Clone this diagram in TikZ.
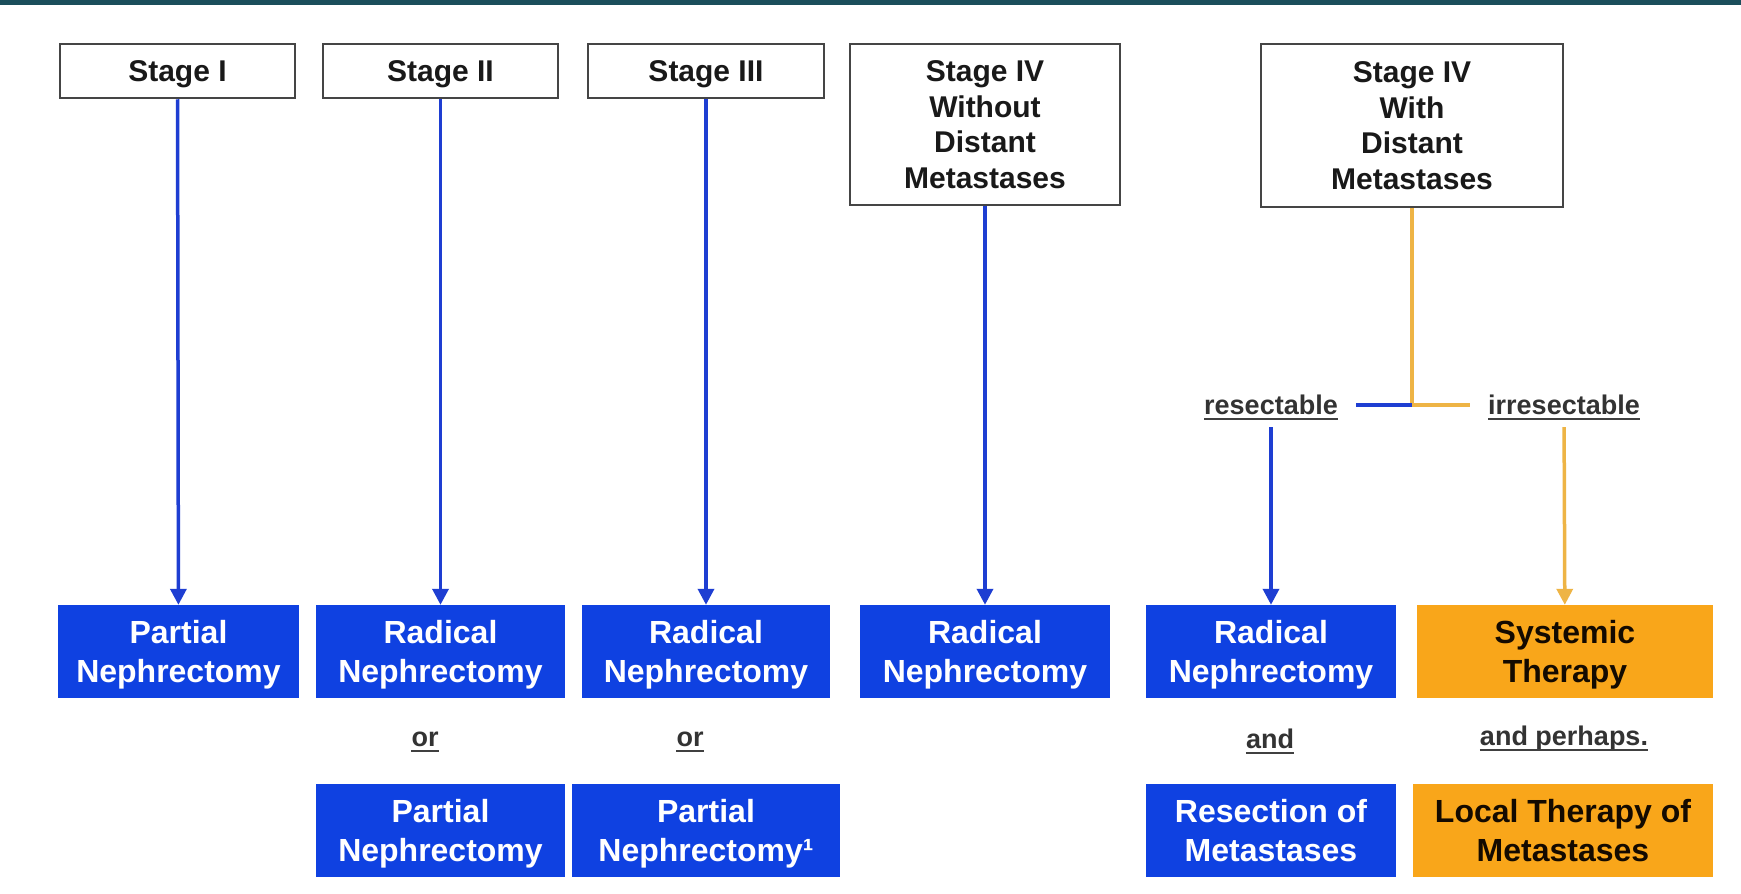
\documentclass[tikz,border=0pt]{standalone}
\usepackage{fontspec}
\setmainfont{Liberation Sans}
\usetikzlibrary{arrows.meta}
\definecolor{nblue}{HTML}{0F41E1}
\definecolor{lblue}{HTML}{1E3ED2}
\definecolor{norange}{HTML}{F9A61A}
\definecolor{lorange}{HTML}{EEB445}
\definecolor{topbar}{HTML}{1B4E5B}
\definecolor{frame}{HTML}{454545}
\tikzset{
  stagebox/.style={draw=frame, line width=2.5pt, fill=white, align=center, inner sep=0pt, text depth=0pt,
    font=\bfseries\fontsize{30}{35.5}\selectfont, text=black!90, minimum height=54pt},
  bluebox/.style={fill=nblue, text=white, align=center, inner sep=0pt, minimum height=93pt, text depth=0pt,
    font=\bfseries\fontsize{32}{39}\selectfont},
  orangebox/.style={fill=norange, text=black!92!orange, align=center, inner sep=0pt, minimum height=93pt, text depth=0pt,
    font=\bfseries\fontsize{32}{39}\selectfont},
  lab/.style={font=\bfseries\fontsize{27}{30}\selectfont, text=black!80, inner xsep=18pt, inner ysep=12pt},
  ul/.style={line width=2pt, black!75},
  barrow/.style={lblue, line width=3.5pt, -{Triangle[width=16pt,length=16pt]}},
  oarrow/.style={lorange, line width=3.5pt, -{Triangle[width=16pt,length=16pt]}},
  bline/.style={lblue, line width=3.5pt},
  oline/.style={lorange, line width=3.5pt},
}
\begin{document}
\begin{tikzpicture}[x=1pt,y=-1pt]
\useasboundingbox[fill=white] (0,0) rectangle (1741,894);
\fill[topbar] (0,0) rectangle (1741,5);

% top boxes
\node[stagebox, minimum width=235pt] (s1) at (177.5,71) {Stage I};
\node[stagebox, minimum width=235pt] (s2) at (440.5,71) {Stage II};
\node[stagebox, minimum width=236pt] (s3) at (706,71) {Stage III};
\node[stagebox, minimum width=270pt, minimum height=161pt] (s4a) at (985,124.5) {Stage IV\\Without\\Distant\\Metastases};
\node[stagebox, minimum width=302pt, minimum height=163pt] (s4b) at (1412,125.5) {Stage IV\\With\\Distant\\Metastases};

% first row of treatments
\node[bluebox, minimum width=241pt] (p1) at (178.5,651.5) {Partial\\Nephrectomy};
\node[bluebox, minimum width=249pt] (r2) at (440.5,651.5) {Radical\\Nephrectomy};
\node[bluebox, minimum width=248pt] (r3) at (706,651.5) {Radical\\Nephrectomy};
\node[bluebox, minimum width=250pt] (r4) at (985,651.5) {Radical\\Nephrectomy};
\node[bluebox, minimum width=250pt] (r5) at (1271,651.5) {Radical\\Nephrectomy};
\node[orangebox, minimum width=296pt] (sys) at (1565,651.5) {Systemic\\Therapy};

% second row
\node[bluebox, minimum width=249pt] (p2) at (440.5,830.5) {Partial\\Nephrectomy};
\node[bluebox, minimum width=268pt] (p3) at (706,830.5) {Partial\\Nephrectomy¹};
\node[bluebox, minimum width=250pt] (res) at (1271,830.5) {Resection of\\Metastases};
\node[orangebox, minimum width=300pt] (loc) at (1563,830.5) {Local Therapy of\\Metastases};

% labels
\node[lab] (or1) at (425,739) {or};
\node[lab] (or2) at (690,739) {or};
\node[lab] (and1) at (1270,739) {and};
\node[lab] (and2) at (1564,739) {and perhaps.};
\node[lab] (rsc) at (1271,405) {resectable};
\node[lab] (irr) at (1564,405) {irresectable};
\foreach \n in {or1,or2,and1,and2,rsc,irr}
  \draw[ul] ([xshift=18pt,yshift=-4.5pt]\n.base west) -- ([xshift=-18pt,yshift=-4.5pt]\n.base east);

% connectors
\draw[barrow] (s1) -- (p1);
\draw[barrow] (s2) -- (r2);
\draw[barrow] (s3) -- (r3);
\draw[barrow] (s4a) -- (r4);
\coordinate (fork) at (1412,405);
\draw[oline] (s4b) -- (fork);
\draw[bline] (fork) -- (rsc);
\draw[oline] (fork) -- (irr);
\draw[barrow] (rsc) -- (r5);
\draw[oarrow] (irr) -- (sys);
\end{tikzpicture}
\end{document}
